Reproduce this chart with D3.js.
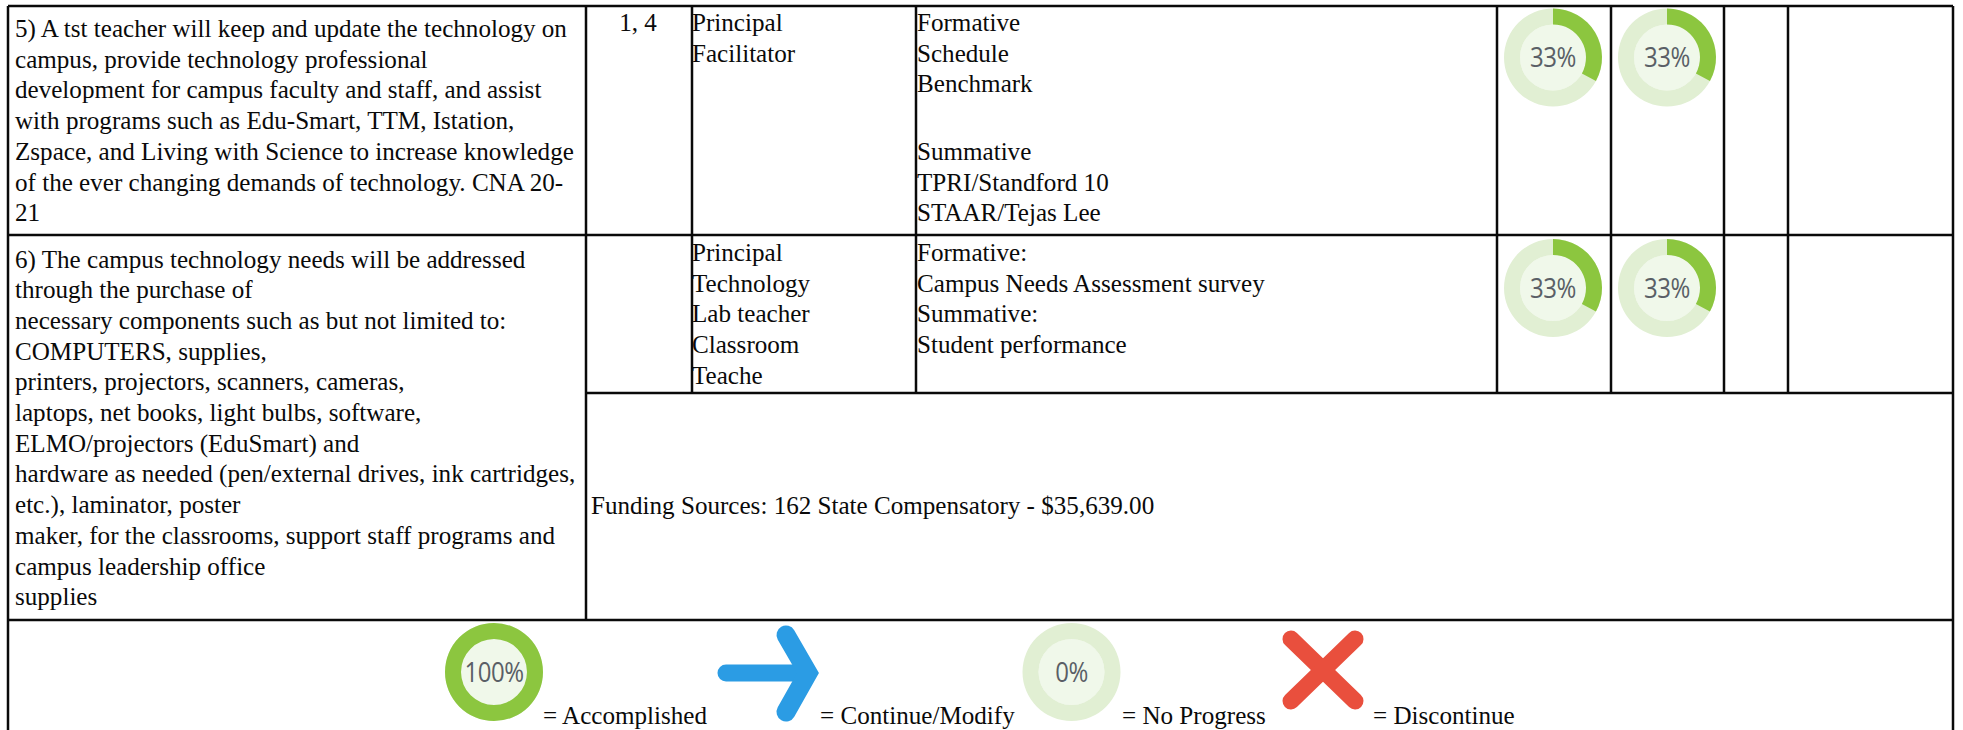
<!DOCTYPE html>
<html lang="en">
<head>
    <meta charset="UTF-8">
    <title>Progress table</title>
    <script src="https://d3js.org/d3.v7.min.js"></script>
    <style>
        html, body { margin: 0; padding: 0; background: #fff; }
        svg { display: block; }
        .cell { font-family: "Liberation Serif", serif; font-size: 25.1px; fill: #0a0a0a; }
        .pct { font-family: "Open Sans", sans-serif; font-size: 24px; fill: #5a5f66; text-anchor: middle; letter-spacing: -0.5px; }
        .grid { stroke: #0a0a0a; stroke-width: 2.5px; fill: none; }
    </style>
</head>
<body>
    <script>
        // table text
        const strategy5 = ["5) A tst teacher will keep and update the technology on", "campus, provide technology professional", "development for campus faculty and staff, and assist", "with programs such as Edu-Smart, TTM, Istation,", "Zspace, and Living with Science to increase knowledge", "of the ever changing demands of technology. CNA 20-", "21"];
        const strategy6 = ["6) The campus technology needs will be addressed", "through the purchase of", "necessary components such as but not limited to:", "COMPUTERS, supplies,", "printers, projectors, scanners, cameras,", "laptops, net books, light bulbs, software,", "ELMO/projectors (EduSmart) and", "hardware as needed (pen/external drives, ink cartridges,", "etc.), laminator, poster", "maker, for the classrooms, support staff programs and", "campus leadership office", "supplies"];
        const staff5 = ["Principal", "Facilitator"];
        const staff6 = ["Principal", "Technology", "Lab teacher", "Classroom", "Teache"];
        const formative5 = ["Formative", "Schedule", "Benchmark"];
        const summative5 = ["Summative", "TPRI/Standford 10", "STAAR/Tejas Lee"];
        const evidence6 = ["Formative:", "Campus Needs Assessment survey", "Summative:", "Student performance"];
        const funding = "Funding Sources: 162 State Compensatory - $35,639.00";

        // progress values
        const row5Progress = [33, 33];
        const row6Progress = [33, 33];
        const legendLabels = ["= Accomplished", "= Continue/Modify", "= No Progress", "= Discontinue"];
        const legendProgress = [100, 0];

        const width = 1963, height = 730;
        const colX = [8, 586, 692, 916, 1497, 1611, 1724, 1788, 1953];
        const rowY = [6, 235, 393, 620, 730];
        const lineH = 30.7;

        const svg = d3.select("body").append("svg")
            .attr("width", width)
            .attr("height", height);

        const angle = d3.scaleLinear().domain([0, 100]).range([0, 2 * Math.PI]);
        const arc = d3.arc().innerRadius(33).outerRadius(49);

        function block(lines, x, y) {
            svg.append("g").selectAll("text")
                .data(lines)
                .join("text")
                .attr("class", "cell")
                .attr("x", x)
                .attr("y", (d, i) => y + i * lineH)
                .text(d => d);
        }

        function donut(value, cx, cy) {
            const g = svg.append("g").attr("transform", `translate(${cx},${cy})`);
            g.append("circle").attr("r", 33).attr("fill", "#f0f8ea");
            g.append("path").attr("fill", "#e1efd3")
                .attr("d", arc({ startAngle: 0, endAngle: 2 * Math.PI }));
            if (value > 0) {
                g.append("path").attr("fill", "#8cc63f")
                    .attr("d", arc({ startAngle: angle(0), endAngle: angle(value) }));
            }
            // label in the source image is a bit stretched vertically
            g.append("text").attr("class", "pct")
                .attr("transform", "scale(1,1.15)")
                .attr("y", 8.5)
                .text(value + "%");
        }

        // grid lines
        const grid = svg.append("g").attr("class", "grid");
        const seg = (x1, y1, x2, y2) => grid.append("line")
            .attr("x1", x1).attr("y1", y1).attr("x2", x2).attr("y2", y2);

        [0, 1, 3].forEach(r => seg(colX[0], rowY[r], colX[8], rowY[r]));
        seg(colX[1], rowY[2], colX[8], rowY[2]);
        [0, 8].forEach(c => seg(colX[c], rowY[0], colX[c], rowY[4]));
        seg(colX[1], rowY[0], colX[1], rowY[3]);
        d3.range(2, 8).forEach(c => seg(colX[c], rowY[0], colX[c], rowY[2]));

        // table text
        block(strategy5, 15, 37);
        block(strategy6, 15, 267.5);
        block(staff5, 692, 31);
        block(staff6, 692, 261);
        block(formative5, 917, 31);
        block(summative5, 917, 160);
        block(evidence6, 917, 261);
        block([funding], 591, 514);
        svg.append("text").attr("class", "cell")
            .attr("x", 638).attr("y", 31).attr("text-anchor", "middle").text("1, 4");

        // progress donuts
        row5Progress.forEach((v, i) => donut(v, [1553, 1667][i], 57.5));
        row6Progress.forEach((v, i) => donut(v, [1553, 1667][i], 288));

        // legend
        donut(legendProgress[0], 494, 672);
        donut(legendProgress[1], 1071.5, 672);

        const arrow = svg.append("g").attr("fill", "none").attr("stroke", "#2b9ce4");
        arrow.append("path").attr("stroke-width", 17).attr("stroke-linecap", "round").attr("d", "M726 673H805");
        arrow.append("path").attr("stroke-width", 19).attr("stroke-linecap", "round").attr("stroke-linejoin", "miter")
            .attr("d", "M786 635L808 673L786 712");

        const cross = svg.append("g").attr("stroke", "#e94f3d").attr("stroke-width", 17).attr("stroke-linecap", "round");
        cross.append("line").attr("x1", 1291).attr("y1", 639).attr("x2", 1355).attr("y2", 701);
        cross.append("line").attr("x1", 1355).attr("y1", 639).attr("x2", 1291).attr("y2", 701);

        [543, 820, 1122, 1373].forEach((x, i) => {
            svg.append("text").attr("class", "cell").attr("x", x).attr("y", 723.5).text(legendLabels[i]);
        });
    </script>
</body>
</html>
